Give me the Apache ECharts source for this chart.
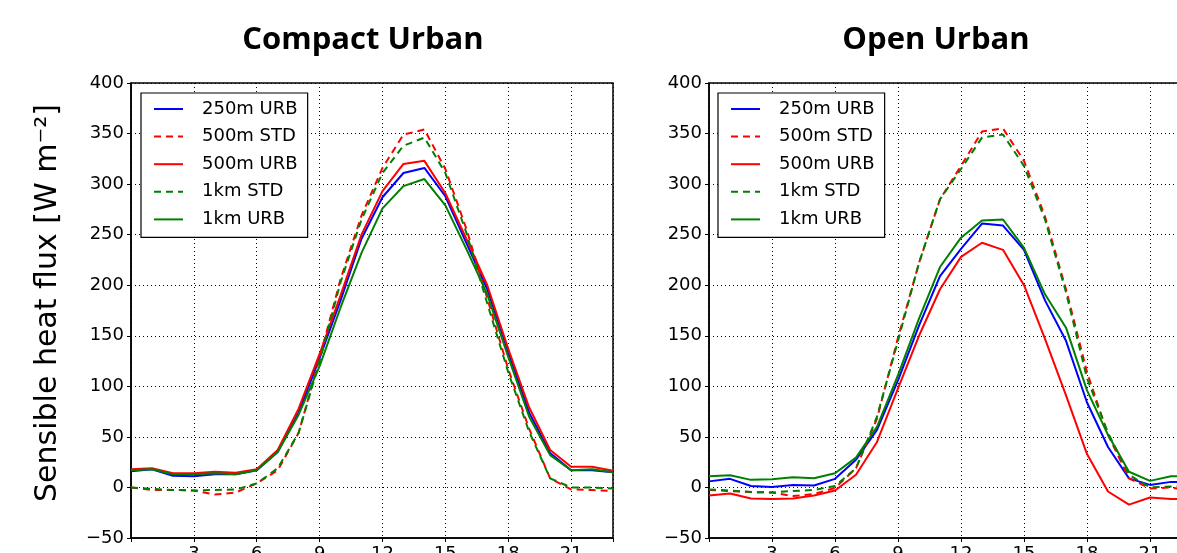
<!DOCTYPE html>
<html>
<head>
<meta charset="utf-8">
<script src="https://cdn.jsdelivr.net/npm/echarts@6/dist/echarts.min.js"></script>
<style>
  html, body { margin: 0; padding: 0; background: #fff; }
  #chart { width: 1177px; height: 553px; }
</style>
</head>
<body>
<div id="chart"></div>
<script>
// hour of day
var hours = [0, 1, 2, 3, 4, 5, 6, 7, 8, 9, 10, 11, 12, 13, 14, 15, 16, 17, 18, 19, 20, 21, 22, 23];

// Compact Urban
var c250URB = [16, 18, 11.5, 11, 13, 13, 17, 35, 74, 128, 185, 246, 287, 311, 316, 288, 242, 196, 134, 74, 34, 17, 17, 15];
var c500STD = [0, -2.5, -2.5, -3, -7, -5, 4, 17, 54, 128, 206, 269, 316, 349, 354, 315, 256, 187, 117, 58, 9, -2, -2.5, -3.5];
var c500URB = [18, 19, 14, 14, 15.5, 14.5, 18, 37, 78, 132, 190, 250, 293, 320, 323, 291, 246, 200, 137, 79, 37, 20.5, 20.5, 16.5];
var c1kmSTD = [0, -1.5, -2.5, -3, -2.5, -2, 4, 19, 54, 125, 203, 265, 311, 338, 346, 311, 252, 182, 114, 55, 9, 0, 0, -1];
var c1kmURB = [17, 18, 13, 13, 14, 13, 17, 35, 72, 120, 178, 232, 276, 298, 305, 279, 236, 191, 129, 70, 32, 17, 18, 15];

// Open Urban
var o250URB = [6, 8.5, 1.5, 0.5, 2.5, 2, 8.5, 27.5, 57, 106, 160, 209, 236, 261, 259, 235, 185, 145, 84, 40, 9, 2.5, 5.5, 5];
var o500STD = [-2.5, -3.5, -4.5, -5, -8.5, -6.5, -0.5, 19, 68, 148, 222, 285, 318, 352, 355, 323, 268, 196, 114, 52, 9, -1, 0, -4];
var o500URB = [-8, -6, -11, -11.5, -11, -8, -3, 12.5, 45, 98, 150, 196, 228, 242, 235, 200, 147, 91, 33, -4, -17, -10, -11.5, -11];
var o1kmSTD = [-2, -3, -4.5, -5, -3.5, -2.5, 1.5, 19, 70, 145, 222, 285, 315, 346, 349, 318, 265, 193, 108, 54, 12.5, 0, 1, 1];
var o1kmURB = [11, 12, 7.5, 8, 10, 9, 14, 29.5, 60, 111, 167, 218, 247, 264, 265, 237, 191, 158, 96, 52, 15.5, 6.5, 11, 11];

var names = ['250m URB', '500m STD', '500m URB', '1km STD', '1km URB'];
var titles = ['Compact Urban', 'Open Urban'];

var chart = echarts.init(document.getElementById('chart'));

function pairs(vals) {
    return hours.map(function (h, i) { return [h, vals[i]]; });
}

function line(name, vals, idx, color, dashed) {
    return {
        name: name,
        type: 'line',
        xAxisIndex: idx,
        yAxisIndex: idx,
        symbol: 'none',
        lineStyle: { color: color, width: 2, type: dashed ? [7, 5] : 'solid' },
        itemStyle: { color: color },
        data: pairs(vals)
    };
}

var tickFont = { fontFamily: 'DejaVu Sans', fontSize: 18, color: '#000' };
var dotted = { show: true, lineStyle: { color: '#000', width: 1, type: [1, 3] } };

function xAx(idx) {
    return {
        type: 'value', gridIndex: idx, min: 0, max: 23, interval: 3,
        axisLine: { show: true, onZero: false, lineStyle: { color: '#000', width: 1.5 } },
        axisTick: { show: true, length: 4, lineStyle: { color: '#000' } },
        axisLabel: Object.assign({ margin: 7, formatter: function (v) { return (v === 0 || v === 23) ? '' : v; } }, tickFont),
        splitLine: dotted
    };
}
function yAx(idx) {
    return {
        type: 'value', gridIndex: idx, min: -50, max: 400, interval: 50,
        axisLine: { show: true, onZero: false, lineStyle: { color: '#000', width: 1.5 } },
        axisTick: { show: true, length: 4, lineStyle: { color: '#000' } },
        axisLabel: Object.assign({ margin: 7, formatter: function (v) { return String(v).replace('-', '\u2212'); } }, tickFont),
        splitLine: dotted
    };
}
function legend(left) {
    return {
        data: names, orient: 'vertical', left: left, top: 93,
        selectedMode: false,
        itemWidth: 29, itemHeight: 18, itemGap: 9.6,
        padding: [7, 10, 9, 12],
        itemStyle: { color: 'rgba(0,0,0,0)', borderWidth: 0, opacity: 0 },
        backgroundColor: '#fff', borderColor: '#000', borderWidth: 1.2,
        textStyle: { fontFamily: 'DejaVu Sans', fontSize: 18, color: '#000', padding: [0, 0, 0, 14] }
    };
}

var option = {
    animation: false,
    backgroundColor: '#fff',
    grid: [
        { left: 131, top: 83, right: 564, bottom: 15, outerBoundsMode: 'none', containLabel: false, show: true, borderColor: '#000', borderWidth: 1.5 },
        { left: 709, top: 83, right: -15, bottom: 15, outerBoundsMode: 'none', containLabel: false, show: true, borderColor: '#000', borderWidth: 1.5 }
    ],
    xAxis: [xAx(0), xAx(1)],
    yAxis: [yAx(0), yAx(1)],
    legend: [legend(141), legend(718)],
    graphic: [
        { type: 'text', x: 363, y: 40, style: { text: titles[0], align: 'center', verticalAlign: 'middle', fontFamily: 'Open Sans', fontWeight: 'bold', fontSize: 31, fill: '#000' } },
        { type: 'text', x: 936, y: 40, style: { text: titles[1], align: 'center', verticalAlign: 'middle', fontFamily: 'Open Sans', fontWeight: 'bold', fontSize: 31, fill: '#000' } },
        { type: 'text', x: 48, y: 303, rotation: Math.PI / 2, style: { text: 'Sensible heat flux [W m\u207B\u00B2]', align: 'center', verticalAlign: 'middle', fontFamily: 'DejaVu Sans', fontSize: 30, fill: '#000' } }
    ],
    series: [
        line(names[0], c250URB, 0, '#0000ff', false),
        line(names[1], c500STD, 0, '#ff0000', true),
        line(names[2], c500URB, 0, '#ff0000', false),
        line(names[3], c1kmSTD, 0, '#008000', true),
        line(names[4], c1kmURB, 0, '#008000', false),
        line(names[0], o250URB, 1, '#0000ff', false),
        line(names[1], o500STD, 1, '#ff0000', true),
        line(names[2], o500URB, 1, '#ff0000', false),
        line(names[3], o1kmSTD, 1, '#008000', true),
        line(names[4], o1kmURB, 1, '#008000', false)
    ]
};
chart.setOption(option);
</script>
</body>
</html>
